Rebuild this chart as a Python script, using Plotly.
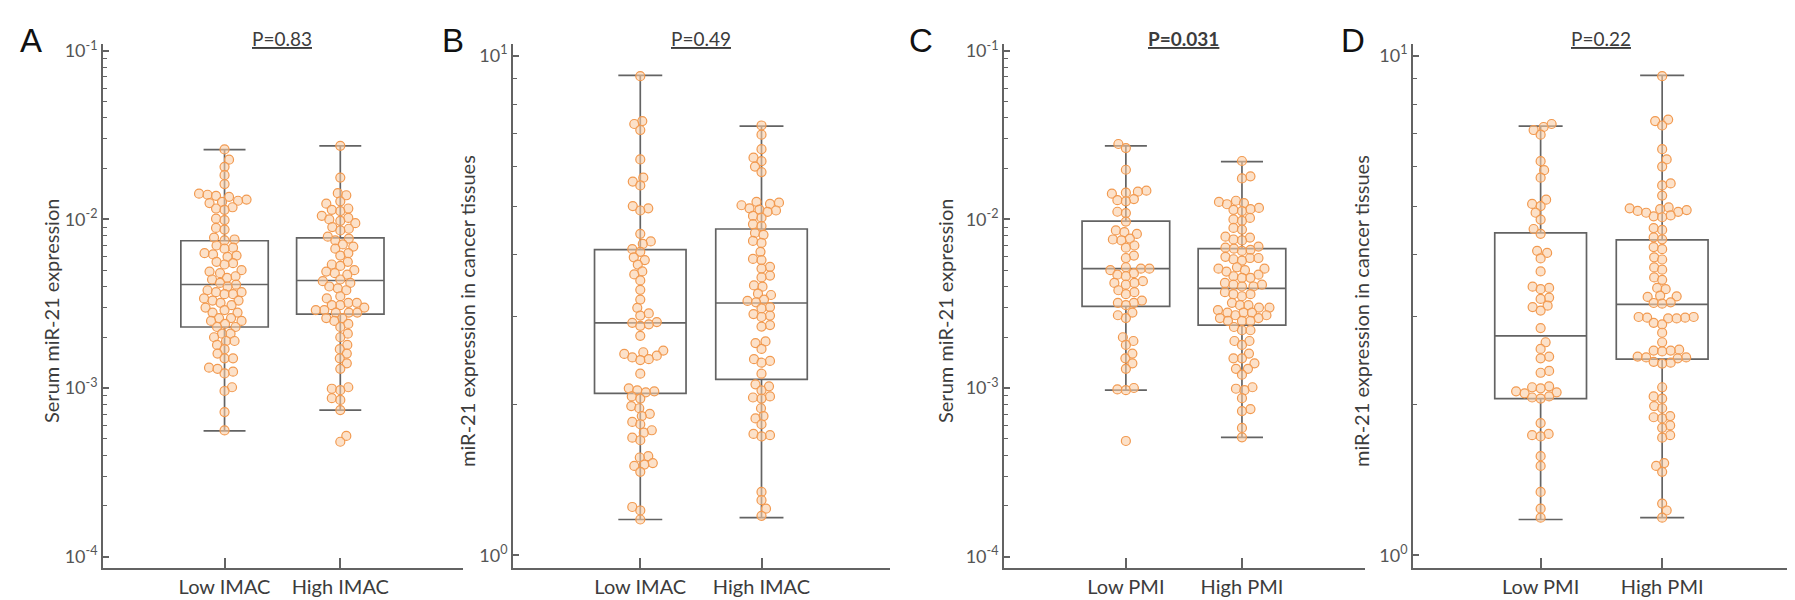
import math
import plotly.graph_objects as go

# ---- values ----
imac_groups = ["Low IMAC", "High IMAC"]
pmi_groups = ["Low PMI", "High PMI"]

serum_low_imac = [
    0.026, 0.0226, 0.0205, 0.0183, 0.0162, 0.0142, 0.0140, 0.0138, 0.0136,
    0.0131, 0.0129, 0.0127, 0.0125, 0.0118, 0.0116, 0.0114, 0.0101, 0.0099,
    0.0089, 0.0087, 0.0078, 0.0076, 0.0075, 0.0070, 0.0068, 0.0067, 0.0063,
    0.0062, 0.0061, 0.0060, 0.0056, 0.0055, 0.0054, 0.0050, 0.0049, 0.0048,
    0.0046, 0.0045, 0.0044, 0.0042, 0.0041, 0.0040, 0.0038, 0.0037, 0.0037,
    0.0036, 0.0036, 0.0034, 0.0033, 0.0033, 0.0032, 0.0031, 0.0030, 0.0029,
    0.0028, 0.0028, 0.0026, 0.0026, 0.0025, 0.0025, 0.0024, 0.0023, 0.0023,
    0.0021, 0.0021, 0.0020, 0.0019, 0.0019, 0.0018, 0.0017, 0.0016, 0.0015,
    0.0015, 0.00132, 0.00130, 0.00125, 0.00122, 0.00101, 0.00096, 0.00072,
    0.00056,
]
serum_high_imac = [
    0.0273, 0.0177, 0.0143, 0.0139, 0.0128, 0.0124, 0.0116, 0.0114, 0.0112,
    0.0105, 0.0102, 0.0100, 0.0098, 0.0095, 0.0090, 0.0088, 0.0086, 0.0079,
    0.0077, 0.0075, 0.0071, 0.0069, 0.0067, 0.0063, 0.0061, 0.0056, 0.0054,
    0.0053, 0.0050, 0.0049, 0.0048, 0.0047, 0.0044, 0.0043, 0.0042, 0.0040,
    0.0039, 0.0038, 0.0035, 0.0034, 0.0032, 0.0032, 0.0031, 0.0031, 0.0030,
    0.0029, 0.0029, 0.0028, 0.0028, 0.0028, 0.0026, 0.0026, 0.0025, 0.0024,
    0.0023, 0.0021, 0.0020, 0.0018, 0.0017, 0.0016, 0.0015, 0.0014, 0.0013,
    0.00101, 0.00099, 0.00097, 0.00087, 0.00085, 0.00074, 0.00052, 0.00048,
]
tissue_low_imac = [
    9.1, 7.4, 7.3, 7.1, 6.2, 5.7, 5.6, 5.5, 5.0, 4.95, 4.9, 4.4, 4.25, 4.2,
    4.1, 4.05, 3.95, 3.9, 3.82, 3.7, 3.65, 3.55, 3.4, 3.25, 3.13, 3.05, 3.02,
    2.93, 2.92, 2.90, 2.88, 2.75, 2.57, 2.55, 2.53, 2.51, 2.49, 2.47, 2.46,
    2.31, 2.16, 2.14, 2.13, 2.12, 2.08, 2.06, 1.99, 1.97, 1.92, 1.90, 1.85,
    1.83, 1.78, 1.76, 1.72, 1.70, 1.58, 1.57, 1.53, 1.52, 1.51, 1.47, 1.25,
    1.23, 1.18,
]
tissue_high_imac = [
    7.25, 6.95, 6.5, 6.25, 6.15, 6.0, 5.85, 5.1, 5.08, 5.05, 5.02, 4.95, 4.92,
    4.9, 4.87, 4.78, 4.74, 4.6, 4.56, 4.42, 4.38, 4.26, 4.22, 4.05, 3.92, 3.9,
    3.78, 3.75, 3.63, 3.6, 3.47, 3.45, 3.34, 3.32, 3.25, 3.23, 3.21, 3.14,
    3.12, 3.04, 3.02, 3.0, 2.89, 2.87, 2.68, 2.66, 2.59, 2.47, 2.45, 2.43,
    2.31, 2.2, 2.18, 2.14, 2.08, 2.07, 2.06, 1.97, 1.9, 1.88, 1.83, 1.75,
    1.74, 1.73, 1.34, 1.29, 1.24, 1.20,
]
serum_low_pmi = [
    0.028, 0.0265, 0.0197, 0.0148, 0.0146, 0.0144, 0.0142, 0.0132, 0.0130,
    0.0128, 0.0111, 0.0109, 0.0097, 0.0086, 0.0084, 0.0082, 0.0077, 0.0076,
    0.0075, 0.0070, 0.0068, 0.0061, 0.0059, 0.0052, 0.0051, 0.0051, 0.0050,
    0.0048, 0.0047, 0.0046, 0.0043, 0.0042, 0.0042, 0.0041, 0.0038, 0.0037,
    0.0036, 0.0033, 0.0032, 0.0032, 0.0031, 0.0028, 0.0027, 0.0026, 0.0020,
    0.0019, 0.0018, 0.0016, 0.0015, 0.0014, 0.0013, 0.0010, 0.00098,
    0.00097, 0.000485,
]
serum_high_pmi = [
    0.0222, 0.0180, 0.0175, 0.0129, 0.0127, 0.0125, 0.0123, 0.0117, 0.0115,
    0.0114, 0.0112, 0.0102, 0.0100, 0.0098, 0.0089, 0.0087, 0.0079, 0.0078,
    0.0076, 0.0075, 0.0069, 0.0068, 0.0067, 0.0066, 0.0065, 0.0060, 0.0059,
    0.0059, 0.0058, 0.0057, 0.0052, 0.0051, 0.0051, 0.0050, 0.0049, 0.0047,
    0.0046, 0.0045, 0.0045, 0.0042, 0.0041, 0.0041, 0.0040, 0.0040, 0.0037,
    0.0036, 0.0036, 0.0035, 0.0032, 0.0031, 0.0031, 0.0030, 0.0030, 0.0029,
    0.0028, 0.0028, 0.0028, 0.0027, 0.0027, 0.0026, 0.0026, 0.0025, 0.0025,
    0.0025, 0.0023, 0.0022, 0.0022, 0.0019, 0.0019, 0.0018, 0.0016, 0.0015,
    0.0015, 0.0014, 0.0013, 0.0013, 0.0012, 0.00101, 0.00099, 0.00097,
    0.00087, 0.00075, 0.00073, 0.00058, 0.00051,
]
tissue_low_pmi = [
    7.3, 7.2, 7.1, 6.95, 6.15, 5.9, 5.7, 5.15, 5.05, 5.0, 4.85, 4.7, 4.5, 4.4,
    4.07, 4.03, 3.93, 3.7, 3.45, 3.43, 3.41, 3.28, 3.26, 3.16, 3.14, 3.09,
    2.85, 2.67, 2.59, 2.50, 2.48, 2.34, 2.32, 2.18, 2.17, 2.16, 2.13, 2.12,
    2.11, 2.08, 2.07, 2.06, 1.84, 1.75, 1.74, 1.73, 1.58, 1.51, 1.34, 1.24,
    1.19,
]
tissue_high_pmi = [
    9.1, 7.45, 7.4, 7.25, 6.5, 6.2, 6.0, 5.55, 5.5, 5.25, 4.97, 4.95, 4.93,
    4.91, 4.89, 4.87, 4.85, 4.79, 4.77, 4.75, 4.52, 4.48, 4.33, 4.29, 4.14,
    4.1, 3.95, 3.91, 3.77, 3.73, 3.6, 3.56, 3.43, 3.41, 3.31, 3.3, 3.29,
    3.21, 3.2, 3.19, 3.0, 3.0, 2.99, 2.99, 2.98, 2.98, 2.92, 2.9, 2.79, 2.67,
    2.58, 2.57, 2.57, 2.56, 2.5, 2.49, 2.49, 2.48, 2.44, 2.43, 2.42, 2.17,
    2.08, 2.06, 1.99, 1.97, 1.9, 1.89, 1.88, 1.82, 1.80, 1.74, 1.72, 1.53,
    1.51, 1.47, 1.27, 1.23, 1.19,
]

# box summaries [low, high]: q1, median, q3, lower whisker, upper whisker
serum_imac_box = dict(q1=[0.0023, 0.00274], median=[0.00411, 0.00434],
                      q3=[0.00747, 0.00776], lo=[0.000556, 0.00074],
                      hi=[0.0259, 0.0273])
tissue_imac_box = dict(q1=[2.11, 2.25], median=[2.92, 3.20], q3=[4.09, 4.50],
                       lo=[1.18, 1.19], hi=[9.13, 7.23])
serum_pmi_box = dict(q1=[0.00305, 0.00236], median=[0.0051, 0.0039],
                     q3=[0.00977, 0.0067], lo=[0.00097, 0.00051],
                     hi=[0.0273, 0.022])
tissue_pmi_box = dict(q1=[2.06, 2.47], median=[2.75, 3.18], q3=[4.42, 4.28],
                      lo=[1.18, 1.19], hi=[7.23, 9.13])

p_values = ["P=0.83", "P=0.49", "P=0.031", "P=0.22"]
panel_letters = ["A", "B", "C", "D"]
serum_title = "Serum miR-21 expression"
tissue_title = "miR-21 expression in cancer tissues"

serum_tickvals = [1e-4, 1e-3, 1e-2, 1e-1]
serum_ticktext = ["10<sup>-4</sup>", "10<sup>-3</sup>", "10<sup>-2</sup>", "10<sup>-1</sup>"]
tissue_tickvals = [1, 10]
tissue_ticktext = ["10<sup>0</sup>", "10<sup>1</sup>"]

# ---- styling / layout ----
W, H = 1795, 600
FONT = "Lato"
AXIS = "#636363"
TEXT = "#3c3c3c"
DOT_LINE = "#F29A50"
DOT_FILL = "rgba(250,205,165,0.6)"
Y_DOMAIN = [1 - 560 / H, 1 - 30 / H]
X_RANGE = [-1.05, 2.06]
DOT_GAP = 8.3

panels = [
    dict(dom=[95, 455], groups=imac_groups, data=[serum_low_imac, serum_high_imac],
         box=serum_imac_box, kind="serum", title=serum_title, title_x=43, letter_x=23),
    dict(dom=[505, 882], groups=imac_groups, data=[tissue_low_imac, tissue_high_imac],
         box=tissue_imac_box, kind="tissue", title=tissue_title, title_x=459, letter_x=445),
    dict(dom=[996, 1357], groups=pmi_groups, data=[serum_low_pmi, serum_high_pmi],
         box=serum_pmi_box, kind="serum", title=serum_title, title_x=937, letter_x=913),
    dict(dom=[1405, 1783], groups=pmi_groups, data=[tissue_low_pmi, tissue_high_pmi],
         box=tissue_pmi_box, kind="tissue", title=tissue_title, title_x=1353, letter_x=1345),
]

Y_RANGES = {"serum": [-4.07, -0.958], "tissue": [-0.026, 1.024]}


def swarm_offsets(values, px_per_decade, px_per_unit, gap=DOT_GAP):
    """Simple beeswarm: push each dot sideways until it no longer overlaps."""
    ys = [math.log10(v) * px_per_decade for v in values]
    order = sorted(range(len(values)), key=lambda i: ys[i])
    placed = []
    offsets = [0.0] * len(values)
    for n, i in enumerate(order):
        y = ys[i]
        near = [(px, py) for px, py in placed if abs(py - y) < gap]
        sign0 = 1 if n % 2 else -1
        chosen = 0.0
        for k in range(400):
            found = False
            for s in ((sign0, -sign0) if k else (1,)):
                cand = s * k * 0.5
                if all((cand - px) ** 2 + (y - py) ** 2 >= gap * gap for px, py in near):
                    chosen, found = cand, True
                    break
            if found:
                break
        placed.append((chosen, y))
        offsets[i] = chosen / px_per_unit
    return offsets


fig = go.Figure()
annotations = []
plot_h = Y_DOMAIN[1] - Y_DOMAIN[0]

for idx, p in enumerate(panels):
    ax = "" if idx == 0 else str(idx + 1)
    xref, yref = "x" + ax, "y" + ax
    yr = Y_RANGES[p["kind"]]
    px_per_decade = plot_h * H / (yr[1] - yr[0])
    px_per_unit = (p["dom"][1] - p["dom"][0]) / (X_RANGE[1] - X_RANGE[0])
    b = p["box"]

    for g in range(2):
        fig.add_trace(go.Box(
            x=[g], q1=[b["q1"][g]], median=[b["median"][g]], q3=[b["q3"][g]],
            lowerfence=[b["lo"][g]], upperfence=[b["hi"][g]],
            width=0.755, whiskerwidth=0.48, boxpoints=False,
            fillcolor="rgba(0,0,0,0)", line=dict(color=AXIS, width=1.7),
            xaxis=xref, yaxis=yref, showlegend=False, hoverinfo="skip",
        ))
    for g, vals in enumerate(p["data"]):
        offs = swarm_offsets(vals, px_per_decade, px_per_unit)
        fig.add_trace(go.Scatter(
            x=[g + o for o in offs], y=vals, mode="markers",
            marker=dict(size=9, color=DOT_FILL, line=dict(color=DOT_LINE, width=1.2)),
            xaxis=xref, yaxis=yref, showlegend=False, hoverinfo="skip",
        ))

    if p["kind"] == "serum":
        tv, tt = serum_tickvals, serum_ticktext
        minor = [k * 10.0 ** e for e in range(-4, -1) for k in range(2, 10)]
    else:
        tv, tt = tissue_tickvals, tissue_ticktext
        minor = [float(k) for k in range(2, 10)]

    fig.layout["xaxis" + ax] = dict(
        domain=[p["dom"][0] / W, p["dom"][1] / W], range=X_RANGE, anchor=yref,
        tickmode="array", tickvals=[0, 1], ticktext=p["groups"],
        ticks="inside", ticklen=11, tickwidth=1.5, tickcolor=AXIS,
        showline=True, linecolor=AXIS, linewidth=1.7, showgrid=False, zeroline=False,
        tickfont=dict(family=FONT, size=20, color=TEXT),
    )
    fig.layout["yaxis" + ax] = dict(
        domain=Y_DOMAIN, type="log", range=yr, anchor=xref,
        tickmode="array", tickvals=tv, ticktext=tt,
        ticks="inside", ticklen=6, tickwidth=1.5, tickcolor=AXIS,
        minor=dict(tickmode="array", tickvals=minor, ticks="inside", ticklen=4,
                   tickwidth=1, tickcolor=AXIS, showgrid=False),
        showline=True, linecolor=AXIS, linewidth=1.7, showgrid=False, zeroline=False,
        tickfont=dict(family=FONT, size=18, color="#555555"),
    )

    pv = "<u>%s</u>" % p_values[idx]
    if idx == 2:
        pv = "<b>%s</b>" % pv
    annotations.append(dict(
        text=pv, xref=xref, yref="paper", x=0.5, y=1 - 25 / H,
        xanchor="center", yanchor="middle",
        showarrow=False, font=dict(family=FONT, size=19, color=TEXT),
    ))
    annotations.append(dict(
        text=panel_letters[idx], xref="paper", yref="paper",
        x=p["letter_x"] / W, y=1 - 27 / H, xanchor="center", yanchor="middle",
        showarrow=False,
        font=dict(family="Liberation Sans", size=33, color="#111111"),
    ))
    annotations.append(dict(
        text=p["title"], xref="paper", yref="paper", textangle=-90,
        x=p["title_x"] / W, y=1 - 300 / H, xanchor="center", yanchor="middle",
        showarrow=False,
        font=dict(family=FONT, size=20, color=TEXT),
    ))

fig.update_layout(
    width=W, height=H, margin=dict(l=0, r=0, t=0, b=0),
    paper_bgcolor="white", plot_bgcolor="white",
    annotations=annotations, showlegend=False,
)

fig.write_html("out.html")
